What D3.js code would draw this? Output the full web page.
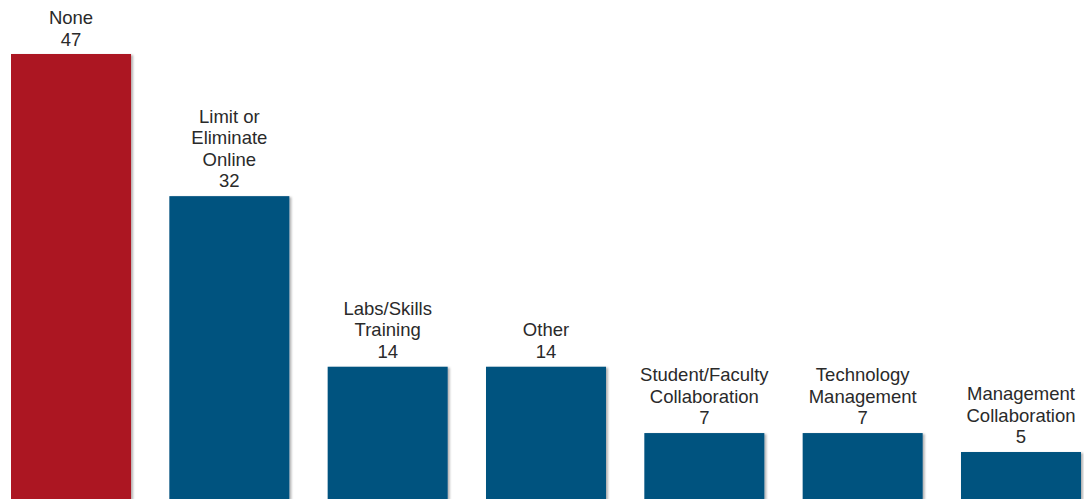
<!DOCTYPE html>
<html>
<head>
<meta charset="utf-8">
<script src="https://cdn.jsdelivr.net/npm/d3@7/dist/d3.min.js"></script>
<style>
  html, body { margin: 0; padding: 0; background: #ffffff; }
  svg { display: block; }
</style>
</head>
<body>
<div id="chart"></div>
<script>
// Responses by category
const categories = [
  "None",
  "Limit or Eliminate Online",
  "Labs/Skills Training",
  "Other",
  "Student/Faculty Collaboration",
  "Technology Management",
  "Management Collaboration"
];
const values = [47, 32, 14, 14, 7, 7, 5];
// How each category label is broken into lines
const labelLines = [
  ["None"],
  ["Limit or", "Eliminate", "Online"],
  ["Labs/Skills", "Training"],
  ["Other"],
  ["Student/Faculty", "Collaboration"],
  ["Technology", "Management"],
  ["Management", "Collaboration"]
];

const width = 1084, height = 499;
const highlightColor = "#ac1820";
const barColor = "#00527f";
const textColor = "#2a2a2a";
const fontSize = 18.5, lineHeight = 21.5, labelGap = 9;

const svg = d3.select("#chart").append("svg")
  .attr("width", width)
  .attr("height", height);

// soft shadow under each bar
const defs = svg.append("defs");
const shadow = defs.append("filter")
  .attr("id", "barShadow")
  .attr("x", "-10%").attr("y", "-10%")
  .attr("width", "130%").attr("height", "130%");
shadow.append("feDropShadow")
  .attr("dx", 2).attr("dy", 1)
  .attr("stdDeviation", 1.2)
  .attr("flood-color", "#000")
  .attr("flood-opacity", 0.3);

const x = d3.scaleBand()
  .domain(categories)
  .range([11, 1081])
  .paddingInner(0.242)
  .paddingOuter(0);

const y = d3.scaleLinear()
  .domain([0, 47])
  .range([499.4, 54]);

const data = categories.map((c, i) => ({ cat: c, value: values[i], lines: labelLines[i] }));

svg.append("g")
  .selectAll("rect")
  .data(data)
  .join("rect")
  .attr("x", d => x(d.cat))
  .attr("y", d => y(d.value))
  .attr("width", x.bandwidth())
  .attr("height", d => y(0) - y(d.value))
  .attr("fill", (d, i) => i === 0 ? highlightColor : barColor)
  .attr("filter", "url(#barShadow)");

// category name + value above each bar
const labels = svg.append("g")
  .attr("font-family", "'Liberation Sans', Arial, sans-serif")
  .attr("font-size", fontSize)
  .attr("fill", textColor)
  .attr("text-anchor", "middle")
  .selectAll("text")
  .data(data)
  .join("text")
  .attr("transform", d => {
    const n = d.lines.length + 1;
    let base = y(d.value) - labelGap;          // baseline of the value line
    const firstBase = base - (n - 1) * lineHeight;
    const minFirst = 24;                        // keep top line inside the frame
    if (firstBase < minFirst) base += minFirst - firstBase;
    return `translate(${x(d.cat) + x.bandwidth() / 2},${base - (n - 1) * lineHeight})`;
  });

labels.selectAll("tspan")
  .data(d => [...d.lines, String(d.value)])
  .join("tspan")
  .attr("x", 0)
  .attr("dy", (d, i) => i === 0 ? 0 : lineHeight)
  .text(d => d);
</script>
</body>
</html>
